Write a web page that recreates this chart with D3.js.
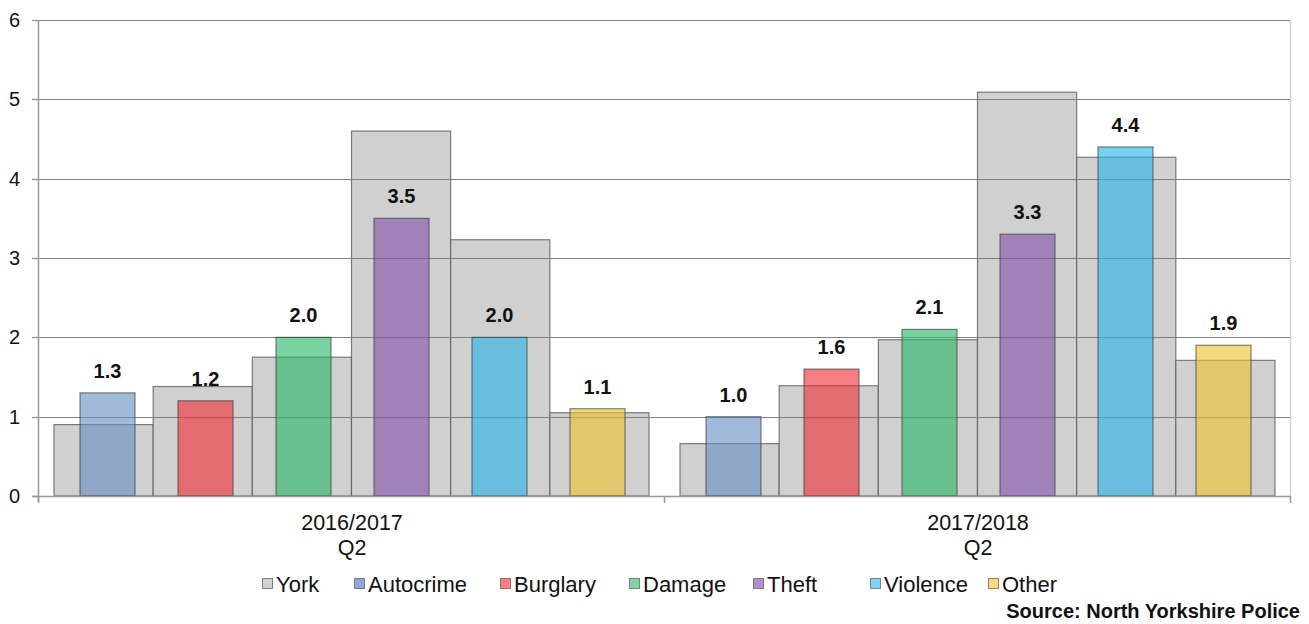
<!DOCTYPE html>
<html><head><meta charset="utf-8">
<script src="https://cdn.jsdelivr.net/npm/d3@7/dist/d3.min.js"></script>
<style>
body{margin:0;background:#fff;}
svg{display:block;font-family:"Liberation Sans",Arial,sans-serif;}
</style></head>
<body><svg id="c" width="1309" height="624"></svg>
<script>
const groups = ["2016/2017\nQ2", "2017/2018\nQ2"];
const crimeTypes = ["Autocrime", "Burglary", "Damage", "Theft", "Violence", "Other"];
const yorkValues = [[0.9, 1.38, 1.75, 4.6, 3.23, 1.05], [0.66, 1.39, 1.97, 5.09, 4.27, 1.71]];
const crimeValues = [[1.3, 1.2, 2.0, 3.5, 2.0, 1.1], [1.0, 1.6, 2.1, 3.3, 4.4, 1.9]];
const yTicks = [0, 1, 2, 3, 4, 5, 6];
const legendLabels = ["York", "Autocrime", "Burglary", "Damage", "Theft", "Violence", "Other"];
const crimeColors = ["#678fc1", "#ef2e35", "#2ab667", "#8353ab", "#28b3e9", "#edc12f"];
const yorkColor = "#d0d0d0";
const legendFill = ["#d0d0d0", "#8eaad3", "#ff7f7f", "#7fd6a4", "#b08fcc", "#7fd4f4", "#ffd97a"];

const svg = d3.select("#c");
const L = 38, R = 1290, T = 20, B = 496;
const y = d3.scaleLinear().domain([0, 6]).range([B, T]);
const x0 = d3.scaleBand().domain(groups).range([L, R]).padding(0);
const gw = x0.bandwidth();
const xYork = d3.scaleBand().domain(crimeTypes).range([16, gw - 15]).padding(0);
const xCrime = d3.scaleBand().domain(crimeTypes).range([20.5, 608.5]).padding(0);
const crimeW = 55;

// York bars
groups.forEach((g, gi) => {
  svg.append("g").selectAll("rect").data(yorkValues[gi]).join("rect")
    .attr("x", (d, i) => x0(g) + xYork(crimeTypes[i]))
    .attr("y", d => y(d))
    .attr("width", xYork.bandwidth())
    .attr("height", d => B - y(d))
    .attr("fill", yorkColor)
    .attr("stroke", "#555").attr("stroke-opacity", 0.75).attr("stroke-width", 1.2);
});
// gridlines
svg.append("g").selectAll("line").data(yTicks.filter(t => t > 0)).join("line")
  .attr("x1", L).attr("x2", R)
  .attr("y1", d => Math.round(y(d)) + 0.5).attr("y2", d => Math.round(y(d)) + 0.5)
  .attr("stroke", "#808080").attr("stroke-width", 1.2);
// right border
svg.append("line").attr("x1", R + 0.5).attr("x2", R + 0.5).attr("y1", T).attr("y2", B)
  .attr("stroke", "#d4d4d4").attr("stroke-width", 1.5);

// crime bars
groups.forEach((g, gi) => {
  const gg = svg.append("g");
  gg.selectAll("rect").data(crimeValues[gi]).join("rect")
    .attr("x", (d, i) => x0(g) + xCrime(crimeTypes[i]) + (xCrime.bandwidth() - crimeW) / 2)
    .attr("y", d => y(d))
    .attr("width", crimeW)
    .attr("height", d => B - y(d))
    .attr("fill", (d, i) => crimeColors[i]).attr("fill-opacity", 0.62)
    .attr("stroke", "#333").attr("stroke-opacity", 0.6).attr("stroke-width", 1.2);
  gg.selectAll("text").data(crimeValues[gi]).join("text")
    .attr("x", (d, i) => x0(g) + xCrime(crimeTypes[i]) + xCrime.bandwidth() / 2)
    .attr("y", d => y(d) - 15)
    .attr("text-anchor", "middle")
    .attr("font-size", 20).attr("font-weight", "bold").attr("fill", "#111")
    .text(d => d.toFixed(1));
});

// axes
svg.append("line").attr("x1", L + 0.5).attr("x2", L + 0.5).attr("y1", T).attr("y2", B + 6)
  .attr("stroke", "#999").attr("stroke-width", 1.5);
svg.append("line").attr("x1", L - 6).attr("x2", R).attr("y1", B + 0.5).attr("y2", B + 0.5)
  .attr("stroke", "#999").attr("stroke-width", 1.5);
svg.append("g").selectAll("line").data(yTicks).join("line")
  .attr("x1", L - 6).attr("x2", L)
  .attr("y1", d => Math.round(y(d)) + 0.5).attr("y2", d => Math.round(y(d)) + 0.5)
  .attr("stroke", "#999").attr("stroke-width", 1.5);
svg.append("g").selectAll("text").data(yTicks).join("text")
  .attr("x", 20).attr("y", d => y(d) + 7)
  .attr("text-anchor", "end").attr("font-size", 20).attr("fill", "#111")
  .text(d => d);
svg.append("g").selectAll("line").data([L, L + gw, R]).join("line")
  .attr("x1", d => Math.round(d) + 0.5).attr("x2", d => Math.round(d) + 0.5)
  .attr("y1", B).attr("y2", B + 7)
  .attr("stroke", "#999").attr("stroke-width", 1.5);
groups.forEach(g => {
  const t = svg.append("text").attr("text-anchor", "middle").attr("font-size", 21.5).attr("fill", "#111");
  g.split("\n").forEach((s, i) => {
    t.append("tspan").attr("x", x0(g) + gw / 2 + 1).attr("y", 530 + i * 25).text(s);
  });
});

// legend
const legX = [262, 354, 500, 629, 753, 870, 988];
const lg = svg.append("g");
legendLabels.forEach((lab, i) => {
  lg.append("rect").attr("x", legX[i] + 0.5).attr("y", 578.5).attr("width", 10).attr("height", 10)
    .attr("fill", legendFill[i]).attr("stroke", "#555").attr("stroke-opacity", 0.7);
  lg.append("text").attr("x", legX[i] + 14).attr("y", 592).attr("font-size", 22).attr("fill", "#111").text(lab);
});
svg.append("text").attr("x", 1300).attr("y", 618).attr("text-anchor", "end")
  .attr("font-size", 20).attr("font-weight", "bold").attr("fill", "#111")
  .text("Source: North Yorkshire Police");
</script></body></html>
